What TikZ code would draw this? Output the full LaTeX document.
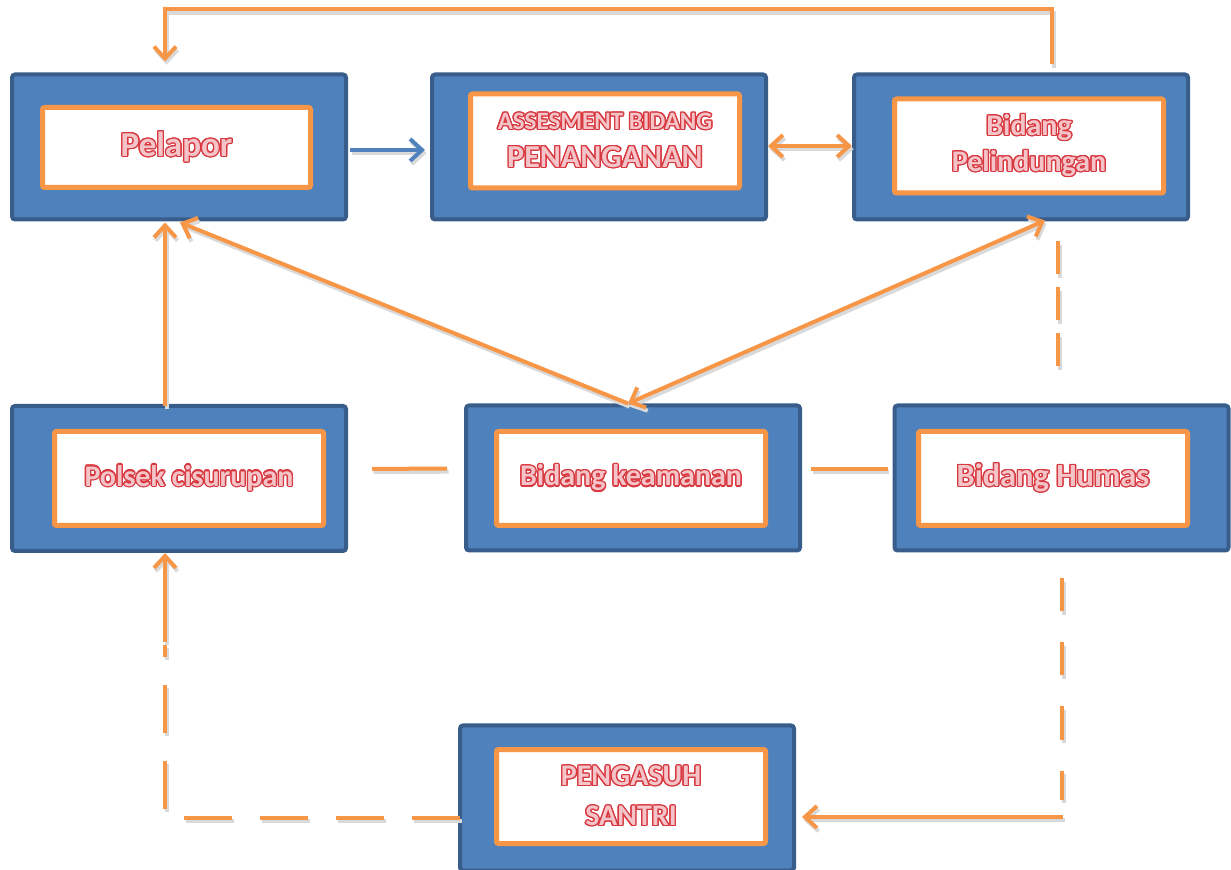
\documentclass[tikz,border=0pt]{standalone}
\usepackage{fontspec}
\setmainfont{Carlito}
\usepackage{contour}
\contourlength{0.65pt}
\usetikzlibrary{arrows.meta,calc}
\definecolor{bfill}{HTML}{4F81BD}
\definecolor{bline}{HTML}{385D8A}
\definecolor{orng}{HTML}{F79646}
\definecolor{txtred}{HTML}{D8383F}
\definecolor{txtfill}{HTML}{F4C4C8}
\newcommand{\tx}[2]{{\fontsize{#1}{#1}\selectfont\bfseries\color{txtfill}\contour{txtred}{#2}}}
\tikzset{
  outerbox/.style={draw=bline, fill=bfill, line width=2pt, rounded corners=1.5pt,
    minimum width=167pt, minimum height=72.5pt, outer sep=0pt, inner sep=0pt},
  innerbox/.style={draw=orng, fill=white, line width=2.5pt, rounded corners=1pt,
    minimum width=134.5pt, minimum height=47pt, outer sep=0pt, inner sep=0pt, align=center},
  oc/.style={draw=orng, line width=2pt,
    preaction={draw=black!15, line width=2pt, transform canvas={shift={(0.8pt,-1.6pt)}}}},
  ocd/.style={draw=orng, line width=2pt, dash pattern=#1,
    preaction={draw=black!15, line width=2pt, dash pattern=#1, transform canvas={shift={(0.8pt,-1.6pt)}}}},
  bc/.style={draw=bfill, line width=2pt,
    preaction={draw=black!15, line width=2pt, transform canvas={shift={(0.8pt,-1.6pt)}}}},
  tip/.style={-{Straight Barb[length=6pt,width=11pt]}},
  tips/.style={{Straight Barb[length=6pt,width=11pt]}-{Straight Barb[length=6pt,width=11pt]}},
}
\begin{document}
\begin{tikzpicture}[x=0.5pt,y=-0.5pt]
\useasboundingbox (0,0) rectangle (1231,870);
\clip (0,0) rectangle (1231,870);
% outer boxes
\node[outerbox] (pel) at (179,147) {};
\node[outerbox] (ass) at (599,147) {};
\node[outerbox] (pld) at (1021,147) {};
\node[outerbox] (pol) at (179,478.5) {};
\node[outerbox] (kea) at (633,478) {};
\node[outerbox] (hum) at (1061.5,478) {};
\node[outerbox] (pen) at (627,798) {};
% inner boxes with text
\node[innerbox, minimum width=134pt, minimum height=40pt] (pelI) at (176.5,147.5) {\tx{17.5}{Pelapor}};
\node[innerbox, font=\fontsize{16}{19}\selectfont] (assI) at (605,141)
  {\tx{12.5}{ASSESMENT BIDANG}\\\tx{16}{PENANGANAN}};
\node[innerbox, font=\fontsize{15}{18}\selectfont] (pldI) at (1029,146)
  {\tx{15}{Bidang}\\\tx{15}{Pelindungan}};
\node[innerbox] (polI) at (189,478.5) {\tx{15}{Polsek cisurupan}};
\node[innerbox] (keaI) at (631,478.5) {\tx{15}{Bidang keamanan}};
\node[innerbox] (humI) at (1053,478.5) {\tx{16.2}{Bidang Humas}};
\node[innerbox, font=\fontsize{15}{20}\selectfont] (penI) at (631,796.5)
  {\tx{15}{PENGASUH}\\\tx{15}{SANTRI}};
% connectors
\draw[oc,tip] ($(pld.north)+(31,-10)$) |- ($(pel.north)+(-14,-65)$) -- ($(pel.north)+(-14,-13)$);
\draw[bc,tip] ($(pel.east)+(4,3)$) -- ($(ass.west)+(-7,3)$);
\draw[oc,tips] ($(ass.east)+(2,-1)$) -- ($(pld.west)+(-2,-1)$);
\draw[oc,tip] ($(pol.north)+(-14,0)$) -- ($(pel.south)+(-14,3)$);
\draw[oc,tip] ($(kea.north)+(-5,-2)$) -- ($(pel.south)+(1,3)$);
\draw[oc,tips] ($(kea.north)+(-5,-2)$) -- ($(pld.south)+(24,1)$);
\draw[ocd={on 16.5pt off 6.5pt}] ($(pld.south)+(37,22)$) -- ($(hum.north)+(-3.5,-39)$);
\draw[oc] ($(pol.east)+(26,-9.5)$) -- ($(kea.west)+(-19,-9.5)$);
\draw[oc] ($(kea.east)+(11,-9)$) -- ($(hum.west)+(-7,-9)$);
\draw[ocd={on 16.5pt off 15.5pt}] ($(hum.south)+(0.5,28)$) -- ($(pen.east)+(268,2)$);
\draw[oc,tip] ($(pen.east)+(269,19)$) -- ($(pen.east)+(8,19)$);
\draw[ocd={on 24pt off 14pt}] ($(pen.west)+(0,20)$) -| ($(pol.south)+(-14,94)$);
\draw[oc,tip] ($(pol.south)+(-14,91)$) -- ($(pol.south)+(-14,2)$);
\end{tikzpicture}
\end{document}
